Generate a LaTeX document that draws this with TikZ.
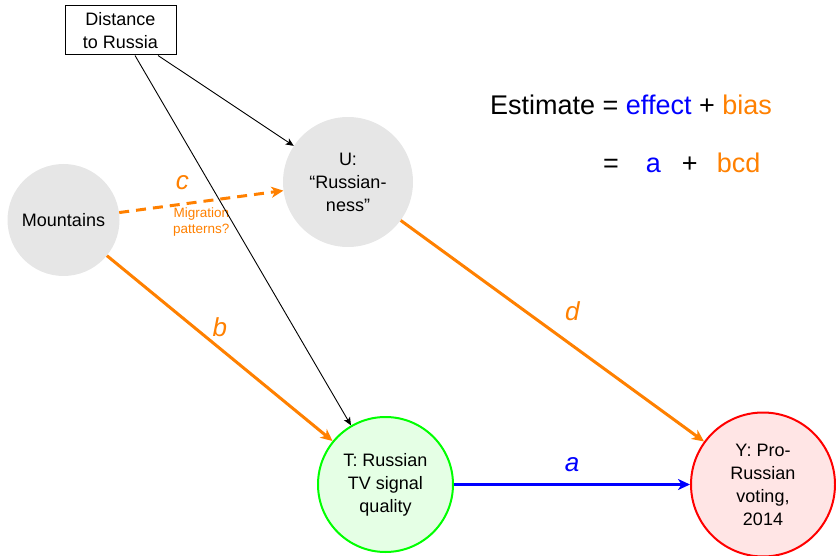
\documentclass[tikz,border=0pt]{standalone}
\usepackage{fontspec}
\setmainfont{Liberation Sans}
\usepackage{tikz}
\usetikzlibrary{arrows.meta}
\definecolor{DagOrange}{HTML}{FF8000}
\definecolor{DagBlue}{HTML}{0000FF}
\definecolor{DagGray}{HTML}{E6E6E6}
\definecolor{DagGreen}{HTML}{00FF00}
\definecolor{DagRed}{HTML}{FF0000}
\tikzset{
  nodetext/.style={align=center, font=\fontsize{18}{23}\selectfont},
  source/.style={nodetext, draw=black, line width=1pt, inner sep=0pt,
    minimum width=111pt, minimum height=49pt},
  factor/.style={nodetext, circle, fill=DagGray, inner sep=0pt},
  treatment/.style={nodetext, circle, draw=DagGreen, line width=2pt,
    fill=DagGreen!10, inner sep=0pt, minimum size=135pt},
  outcome/.style={nodetext, circle, draw=DagRed, line width=2pt,
    fill=DagRed!10, inner sep=0pt, minimum size=144pt},
  wire/.style={-{Stealth[length=8pt, width=7pt, inset=2pt]}, line width=0.9pt},
  biaswire/.style={-{Stealth[length=12pt, width=11pt, inset=3.5pt]},
    line width=3pt, draw=DagOrange},
  biasdash/.style={biaswire, dash pattern=on 10pt off 7pt},
  effectwire/.style={biaswire, draw=DagBlue},
  pathlabel/.style={inner sep=0pt, text=DagOrange,
    font=\fontsize{26}{30}\selectfont\itshape},
  notelabel/.style={inner sep=0pt, text=DagOrange, align=center,
    font=\fontsize{13.5}{16}\selectfont},
  formula/.style={inner sep=0pt, font=\fontsize{27}{32}\selectfont}
}
\begin{document}
\begin{tikzpicture}[x=1pt, y=-1pt]
  \useasboundingbox (0,0) rectangle (836,556);
  \node[source] (dist) at (120.5,30.5) {Distance\\to Russia};
  \node[factor, minimum size=112pt] (mtn) at (63.5,220) {Mountains};
  \node[factor, minimum size=130pt] (russ) at (348,182) {U:\\“Russian-\\ness”};
  \node[treatment] (tv) at (385.5,484.5) {T: Russian\\TV signal\\quality};
  \node[outcome] (vote) at (763,484.5) {Y: Pro-\\Russian\\voting,\\2014};

  \node[formula, anchor=base] (estimate) at (631,115)
    {Estimate = {\color{DagBlue}effect} + {\color{DagOrange}bias}};
  \node[formula, anchor=base west] (terms) at (603,173)
    {=\hspace{27pt}{\color{DagBlue}a}\hspace{21pt}+\hspace{19pt}{\color{DagOrange}bcd}};

  \draw[biasdash] (mtn) --
    node[pathlabel, xshift=-19pt, yshift=19pt] (labc) {c}
    node[notelabel, yshift=-20pt] (mignote) {Migration\\patterns?} (russ);
  \draw[biaswire] (mtn) -- node[pathlabel, yshift=21pt] (labb) {b} (tv);
  \draw[biaswire] (russ) -- node[pathlabel, xshift=20pt, yshift=20pt] (labd) {d} (vote);
  \draw[effectwire] (tv) -- node[pathlabel, text=DagBlue, yshift=20pt] (laba) {a} (vote);
  \draw[wire] (dist) -- (russ);
  \draw[wire] (dist) -- (tv);
\end{tikzpicture}
\end{document}
